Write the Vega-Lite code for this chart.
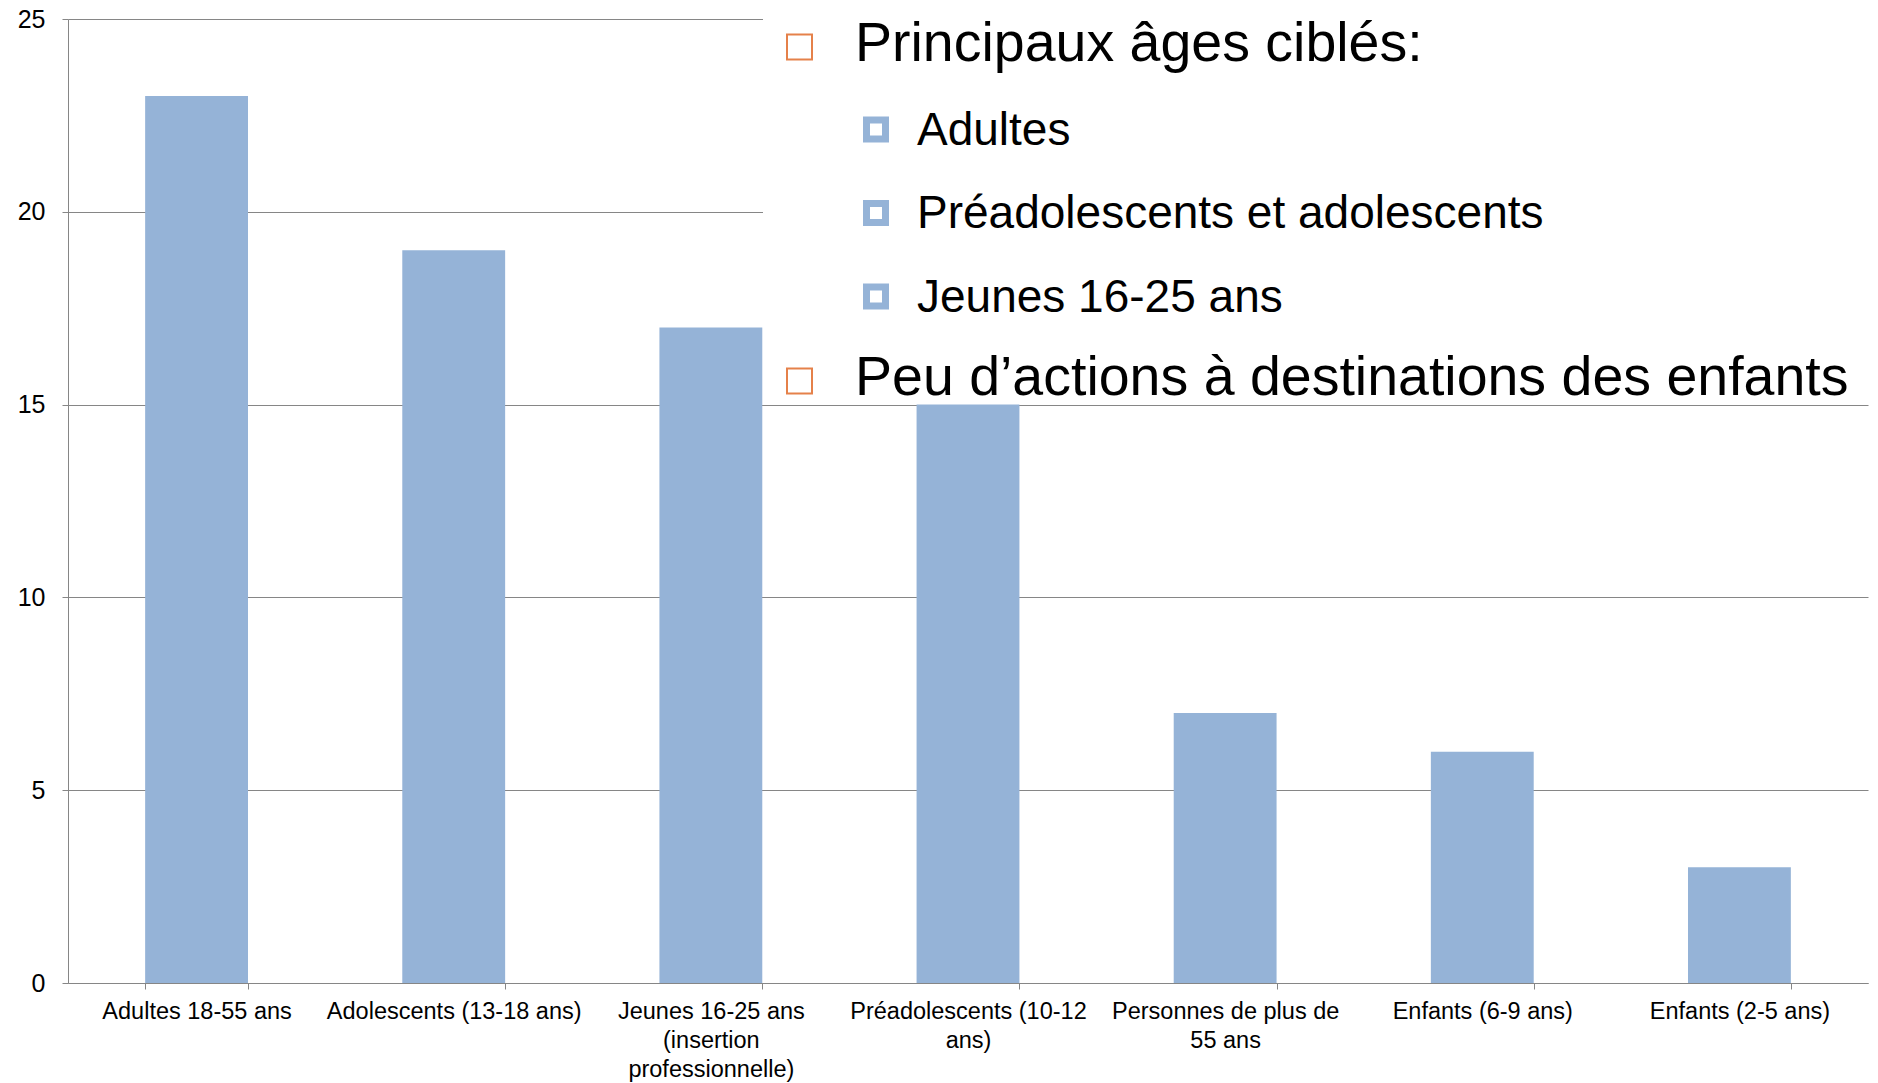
{
  "$schema": "https://vega.github.io/schema/vega-lite/v6.json",
  "width": 1800,
  "height": 964,
  "autosize": {"type": "none"},
  "padding": {"left": 68, "top": 19, "right": 10, "bottom": 100},
  "background": "white",
  "config": {"font": "Liberation Sans", "view": {"stroke": null}},
  "datasets": {
    "ages": [
      {"categorie": "Adultes 18-55 ans", "nombre": 23},
      {"categorie": "Adolescents (13-18 ans)", "nombre": 19},
      {"categorie": "Jeunes 16-25 ans (insertion professionnelle)", "nombre": 17},
      {"categorie": "Préadolescents (10-12 ans)", "nombre": 15},
      {"categorie": "Personnes de plus de 55 ans", "nombre": 7},
      {"categorie": "Enfants (6-9 ans)", "nombre": 6},
      {"categorie": "Enfants (2-5 ans)", "nombre": 3}
    ],
    "notes": [
      {"ligne": 1, "niveau": 1, "texte": "Principaux âges ciblés:"},
      {"ligne": 2, "niveau": 2, "texte": "Adultes"},
      {"ligne": 3, "niveau": 2, "texte": "Préadolescents et adolescents"},
      {"ligne": 4, "niveau": 2, "texte": "Jeunes 16-25 ans"},
      {"ligne": 5, "niveau": 1, "texte": "Peu d’actions à destinations des enfants"}
    ]
  },
  "layer": [
    {
      "data": {"name": "ages"},
      "mark": {"type": "bar", "color": "#95B3D7"},
      "encoding": {
        "x": {
          "field": "categorie",
          "type": "nominal",
          "sort": null,
          "scale": {"paddingInner": 0.6, "paddingOuter": 0.3},
          "axis": {
            "title": null,
            "labelAngle": 0,
            "tickBand": "extent",
            "tickSize": 6,
            "tickColor": "#868686",
            "domainColor": "#868686",
            "labelPadding": 10,
            "labelFontSize": 23.5,
            "labelColor": "#000000",
            "labelLineHeight": 29,
            "labelLimit": 400,
            "labelOverlap": false,
            "grid": false,
            "labelExpr": "datum.value == 'Jeunes 16-25 ans (insertion professionnelle)' ? ['Jeunes 16-25 ans', '(insertion', 'professionnelle)'] : datum.value == 'Préadolescents (10-12 ans)' ? ['Préadolescents (10-12', 'ans)'] : datum.value == 'Personnes de plus de 55 ans' ? ['Personnes de plus de', '55 ans'] : datum.value"
          }
        },
        "y": {
          "field": "nombre",
          "type": "quantitative",
          "scale": {"domain": [0, 25], "nice": false},
          "axis": {
            "title": null,
            "values": [0, 5, 10, 15, 20, 25],
            "grid": true,
            "gridColor": "#868686",
            "domainColor": "#868686",
            "tickColor": "#868686",
            "tickSize": 6,
            "labelPadding": 17,
            "labelFontSize": 25,
            "labelColor": "#000000"
          }
        }
      }
    },
    {
      "data": {"name": "notes"},
      "encoding": {
        "x": {"field": "niveau", "type": "quantitative", "scale": {"domain": [1, 2], "range": [787, 849], "zero": false, "nice": false}, "axis": null},
        "y": {"field": "ligne", "type": "quantitative", "scale": {"domain": [1, 5], "range": [42, 376], "zero": false, "nice": false}, "axis": null}
      },
      "layer": [
        {
          "transform": [{"filter": "datum.ligne == 1"}],
          "mark": {"type": "rect", "color": "white"},
          "encoding": {
            "x": {"datum": -0.484, "type": "quantitative"},
            "x2": {"datum": 17.5},
            "y": {"datum": 0.28, "type": "quantitative"},
            "y2": {"datum": 5.06}
          }
        },
        {
          "transform": [{"filter": "datum.niveau == 1"}],
          "mark": {"type": "point", "shape": "square", "size": 625, "strokeWidth": 2, "stroke": "#E5814A", "fill": "white", "opacity": 1, "filled": false},
          "encoding": {"xOffset": {"value": -55.5}, "yOffset": {"value": -14}}
        },
        {
          "transform": [{"filter": "datum.niveau == 2"}],
          "mark": {"type": "point", "shape": "square", "size": 361, "strokeWidth": 7, "stroke": "#95B3D7", "fill": "white", "opacity": 1, "filled": false},
          "encoding": {"xOffset": {"value": -41}, "yOffset": {"value": -15}}
        },
        {
          "transform": [{"filter": "datum.niveau == 1"}],
          "mark": {"type": "text", "align": "left", "baseline": "alphabetic", "color": "#000000", "fontSize": 55.5},
          "encoding": {"text": {"field": "texte"}}
        },
        {
          "transform": [{"filter": "datum.niveau == 2"}],
          "mark": {"type": "text", "align": "left", "baseline": "alphabetic", "color": "#000000", "fontSize": 46},
          "encoding": {"text": {"field": "texte"}}
        }
      ]
    }
  ],
  "resolve": {"scale": {"x": "independent", "y": "independent"}}
}
